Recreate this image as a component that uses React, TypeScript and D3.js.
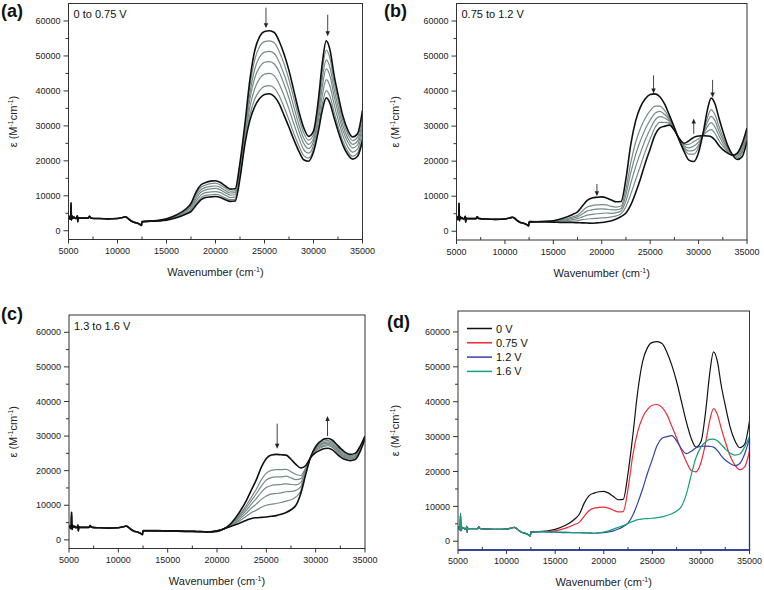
import React from 'react';
import * as d3 from 'd3';

const FONT = "'Liberation Sans', Arial, Helvetica, sans-serif";

// shared x grid for the spectral region above 12500 cm-1
const xGrid = [12500, 14000, 15000, 16000, 17000, 17500, 18000, 18500, 19000, 19500, 20000, 20500, 21000, 21500, 22000, 22500, 23000, 23500, 24000, 24500, 25000, 25500, 26000, 26500, 27000, 27500, 28000, 28500, 29000, 29500, 30000, 30500, 30900, 31300, 31700, 32100, 32500, 33000, 33500, 34000, 34500, 35000];

// low-wavenumber region (common to all spectra)
const lowX = [5000, 5080, 5150, 5220, 5260, 5300, 5380, 5450, 5550, 5700, 5850, 5900, 5950, 6000, 6100, 6500, 7000, 7150, 7250, 7400, 8000, 9000, 10000, 10500, 10800, 11000, 11300, 11600, 12000, 12300, 12450];
const lowY = [3500, 4100, 3300, 3600, 8000, 3000, 4200, 3600, 3900, 3500, 3800, 4300, 2600, 3800, 3600, 3600, 3600, 4100, 3700, 3600, 3500, 3400, 3500, 3800, 4000, 3700, 3000, 2500, 2200, 1800, 1500];

// main spectra
const v0 = [2600, 2900, 3400, 4500, 6300, 7800, 11000, 13100, 13800, 14200, 14300, 13800, 12800, 11900, 12000, 19500, 30500, 43000, 51500, 55500, 57000, 57200, 56700, 54200, 50500, 45800, 40000, 34200, 29500, 27000, 28500, 37500, 48000, 54300, 51500, 44500, 39000, 32800, 28800, 26800, 27800, 34500];
const v075 = [2600, 2800, 3000, 3700, 4800, 5500, 7200, 8800, 9500, 9700, 9800, 9500, 8900, 8400, 8500, 15000, 24800, 31500, 35500, 37800, 39000, 39200, 38400, 36300, 33000, 29600, 26000, 22800, 20300, 19900, 22500, 28500, 34500, 38000, 36300, 32300, 28600, 24500, 21800, 20500, 21300, 25800];
const v12 = [2800, 2700, 2600, 2500, 2500, 2450, 2400, 2350, 2300, 2400, 2500, 2700, 3000, 3500, 4200, 5200, 7500, 11000, 15000, 19500, 23500, 27500, 29500, 30000, 30300, 28800, 26500, 25100, 25800, 26800, 27200, 27300, 27200, 27000, 26000, 24500, 23300, 22300, 21700, 22300, 25000, 29500];
const v13 = [2600, 2600, 2500, 2500, 2400, 2400, 2400, 2350, 2300, 2300, 2400, 2900, 3700, 5000, 6800, 9000, 11500, 14500, 17500, 21000, 23500, 24500, 24700, 24600, 24500, 23300, 21800, 20800, 21500, 23800, 25200, 26000, 26400, 26500, 26000, 25000, 24000, 23200, 22900, 23200, 25500, 29300];
const v16 = [2700, 2700, 2600, 2600, 2500, 2500, 2400, 2400, 2300, 2400, 2600, 3000, 3500, 4000, 4500, 5100, 5700, 6200, 6400, 6500, 6600, 6800, 7000, 7400, 7900, 8700, 10000, 13500, 19000, 24000, 27000, 28500, 29200, 29300, 28800, 27700, 26500, 25300, 24700, 25000, 27000, 30000];

// intermediate spectra, panel (a)
const aG1 = [2600, 2900, 3300, 4400, 6100, 7400, 10400, 12400, 13100, 13500, 13600, 13100, 12200, 11300, 11400, 18800, 29600, 41200, 48900, 52700, 54100, 54300, 53800, 51300, 47700, 43200, 37800, 32400, 28000, 25900, 27500, 36100, 45800, 51700, 49100, 42600, 37300, 31500, 27700, 25800, 26800, 33100];
const aG2 = [2600, 2900, 3300, 4200, 5800, 7000, 9800, 11700, 12400, 12700, 12800, 12400, 11500, 10800, 10900, 18000, 28600, 39200, 46200, 49700, 51100, 51300, 50700, 48300, 44700, 40500, 35400, 30400, 26500, 24700, 26500, 34500, 43600, 48900, 46500, 40500, 35600, 30100, 26500, 24700, 25700, 31600];
const aG3 = [2600, 2800, 3200, 4100, 5600, 6700, 9100, 11000, 11700, 12000, 12100, 11700, 10900, 10200, 10300, 17300, 27700, 37400, 43700, 46800, 48200, 48400, 47700, 45400, 41900, 37900, 33100, 28600, 25000, 23500, 25600, 33100, 41400, 46300, 44100, 38500, 33900, 28700, 25400, 23700, 24600, 30200];
const aG4 = [2600, 2800, 3100, 4000, 5300, 6200, 8400, 10200, 10900, 11100, 11200, 10900, 10200, 9500, 9600, 16400, 26600, 35200, 40600, 43500, 44800, 45000, 44300, 42000, 38600, 34800, 30500, 26500, 23200, 22200, 24400, 31400, 38800, 43200, 41200, 36200, 31900, 27200, 24000, 22500, 23400, 28600];
const aG5 = [2600, 2800, 3100, 3800, 5000, 5800, 7700, 9400, 10100, 10300, 10400, 10100, 9400, 8900, 9000, 15600, 25500, 33000, 37600, 40100, 41300, 41500, 40800, 38600, 35300, 31700, 27800, 24300, 21500, 20800, 23300, 29700, 36300, 40100, 38300, 33900, 30000, 25600, 22700, 21300, 22200, 26900];

// intermediate spectra, panel (b)
const bG1 = [2700, 2800, 2900, 3300, 4100, 4600, 5800, 6900, 7300, 7500, 7600, 7500, 7100, 6900, 7200, 12100, 19600, 25400, 29400, 32300, 34400, 35700, 35700, 34400, 32200, 29400, 26200, 23500, 22000, 22000, 23900, 28100, 32300, 34700, 33200, 30000, 27000, 23800, 21800, 21000, 22400, 26900];
const bG2 = [2700, 2800, 2800, 3100, 3700, 4100, 4900, 5800, 6100, 6300, 6400, 6300, 6100, 6100, 6500, 10400, 16700, 21900, 25900, 29200, 31700, 33700, 34200, 33300, 31700, 29200, 26200, 23900, 22900, 23100, 24700, 27900, 31100, 32800, 31500, 28600, 26100, 23500, 21800, 21400, 23000, 27500];
const bG3 = [2700, 2700, 2700, 2900, 3300, 3600, 4100, 4600, 4800, 5000, 5100, 5200, 5100, 5300, 5800, 8700, 13700, 18400, 22400, 26100, 29100, 31700, 32700, 32300, 31300, 29100, 26300, 24300, 23800, 24300, 25500, 27700, 29800, 31000, 29700, 27300, 25200, 23100, 21700, 21700, 23700, 28200];
const bG4 = [2800, 2700, 2700, 2700, 2900, 3000, 3300, 3500, 3600, 3700, 3800, 3900, 4100, 4400, 5000, 7000, 10600, 14700, 18700, 22800, 26300, 29600, 31100, 31100, 30800, 28900, 26400, 24700, 24800, 25600, 26400, 27500, 28500, 29000, 27900, 25900, 24300, 22700, 21700, 22000, 24300, 28800];

// intermediate spectra, panel (c)
const cG1 = [2600, 2600, 2500, 2500, 2400, 2400, 2400, 2400, 2300, 2300, 2500, 2900, 3700, 4800, 6200, 8000, 10100, 12400, 14700, 17400, 19300, 20100, 20300, 20300, 20400, 19700, 18900, 18600, 20900, 23900, 25700, 26600, 27100, 27200, 26700, 25700, 24600, 23700, 23400, 23700, 25900, 29500];
const cG2 = [2600, 2600, 2500, 2500, 2400, 2400, 2400, 2400, 2300, 2300, 2500, 2900, 3600, 4600, 6000, 7600, 9400, 11400, 13400, 15600, 17300, 18000, 18200, 18200, 18400, 17900, 17400, 17700, 20600, 23900, 25900, 26900, 27400, 27500, 27000, 26000, 24900, 24000, 23600, 23900, 26100, 29600];
const cG3 = [2700, 2700, 2600, 2600, 2500, 2500, 2400, 2400, 2300, 2400, 2500, 3000, 3600, 4500, 5700, 7100, 8600, 10400, 12000, 13800, 15100, 15700, 15900, 16000, 16200, 16000, 15900, 16600, 20300, 23900, 26100, 27300, 27800, 27900, 27400, 26400, 25300, 24300, 23800, 24100, 26300, 29700];
const cG4 = [2700, 2700, 2600, 2600, 2500, 2500, 2400, 2400, 2300, 2400, 2500, 3000, 3600, 4400, 5300, 6500, 7800, 9200, 10400, 11700, 12700, 13200, 13400, 13600, 13900, 14000, 14300, 15400, 19900, 23900, 26400, 27600, 28200, 28300, 27800, 26700, 25600, 24500, 24100, 24400, 26500, 29800];
const cG5 = [2700, 2700, 2600, 2600, 2500, 2500, 2400, 2400, 2300, 2400, 2600, 3000, 3500, 4200, 5000, 5900, 6900, 7900, 8600, 9400, 10000, 10300, 10500, 10800, 11200, 11600, 12400, 14200, 19500, 24000, 26600, 28000, 28600, 28700, 28200, 27200, 26000, 24900, 24300, 24600, 26700, 29900];

// arrows: [wavenumber, from, to]
const arrowsA = [[25150, 63800, 57900], [31450, 61800, 55600]];
const arrowsB = [[19500, 13500, 10000], [25350, 44500, 39300], [29500, 27800, 32200], [31450, 43200, 38200]];
const arrowsC = [[26100, 33600, 26300], [31200, 30000, 35800]];

// legend of panel (d)
const legendLabels = ['0 V', '0.75 V', '1.2 V', '1.6 V'];
const legendColors = ['#111111', '#ee2b38', '#3342a8', '#18a07c'];

// blue trace artefact at bottom/right edge in (d)
const blueTailX = [35000, 35000, 5000];
const blueTailY = [29500, -2500, -2500];

const xMajor = [5000, 10000, 15000, 20000, 25000, 30000, 35000];
const xMinor = [7500, 12500, 17500, 22500, 27500, 32500];
const yMajor = [0, 10000, 20000, 30000, 40000, 50000, 60000];
const yMinor = [5000, 15000, 25000, 35000, 45000, 55000];

const GREY = '#768a87';
const BLACK = '#111111';

type Curve = { xs: number[]; ys: number[]; color: string; width: number };

const full = (ys: number[]) => ({ xs: lowX.concat(xGrid), ys: lowY.concat(ys) });
const high = (ys: number[]) => ({ xs: xGrid, ys });

type PanelProps = {
  box: { l: number; r: number; t: number; b: number };
  yTop: number;
  curves: Curve[];
  arrows?: number[][];
  label: string;
  labelPos: [number, number];
  note?: string;
  legend?: boolean;
  tail?: boolean;
  yTitleX: number;
  xLabelY: number;
  xTitleY: number;
};

function Panel(p: PanelProps) {
  const { box } = p;
  const x = d3.scaleLinear().domain([5000, 35000]).range([box.l, box.r]);
  const y = d3.scaleLinear().domain([-2500, p.yTop]).range([box.b, box.t]);
  const line = d3
    .line<[number, number]>()
    .x((d) => x(d[0]))
    .y((d) => y(d[1]))
    .curve(d3.curveMonotoneX);
  const cx = (box.l + box.r) / 2;
  const cy = (box.t + box.b) / 2;
  const clipId = 'clip' + p.label.replace(/[()]/g, '');
  return (
    <g>
      <defs>
        <clipPath id={clipId}>
          <rect x={box.l} y={box.t} width={box.r - box.l} height={box.b - box.t} />
        </clipPath>
      </defs>
      <g clipPath={`url(#${clipId})`}>
        {p.curves.map((c, i) => (
          <path
            key={i}
            d={line(c.xs.map((v, j) => [v, c.ys[j]] as [number, number])) || ''}
            fill="none"
            stroke={c.color}
            strokeWidth={c.width}
            strokeLinejoin="round"
          />
        ))}
      </g>
      {p.tail && (
        <path
          d={d3.line<[number, number]>().x((d) => x(d[0])).y((d) => y(d[1]))(
            blueTailX.map((v, j) => [v, blueTailY[j]] as [number, number])
          ) || ''}
          fill="none"
          stroke={legendColors[2]}
          strokeWidth={1.3}
        />
      )}
      <rect x={box.l} y={box.t} width={box.r - box.l} height={box.b - box.t} fill="none" stroke="#333" strokeWidth={1} />
      {p.tail && (
        <line x1={box.l} x2={box.r} y1={box.b} y2={box.b} stroke={legendColors[2]} strokeWidth={1.3} />
      )}
      {/* x ticks */}
      {xMajor.map((v) => (
        <g key={'xm' + v}>
          <line x1={x(v)} x2={x(v)} y1={box.b} y2={box.b + 4} stroke="#333" />
          <text x={x(v)} y={p.xLabelY} fontSize={9} textAnchor="middle" fill="#222" fontFamily={FONT}>
            {v}
          </text>
        </g>
      ))}
      {xMinor.map((v) => (
        <line key={'xn' + v} x1={x(v)} x2={x(v)} y1={box.b} y2={box.b - 3} stroke="#333" />
      ))}
      {/* y ticks */}
      {yMajor.map((v) => (
        <g key={'ym' + v}>
          <line x1={box.l - 5} x2={box.l} y1={y(v)} y2={y(v)} stroke="#333" />
          <text x={box.l - 8} y={y(v) + 3.2} fontSize={9} textAnchor="end" fill="#222" fontFamily={FONT}>
            {v}
          </text>
        </g>
      ))}
      {yMinor.map((v) => (
        <line key={'yn' + v} x1={box.l - 3} x2={box.l} y1={y(v)} y2={y(v)} stroke="#333" />
      ))}
      {/* axis titles */}
      <text x={cx} y={p.xTitleY} fontSize={11} textAnchor="middle" fill="#222" fontFamily={FONT}>
        Wavenumber (cm
        <tspan fontSize={7} dy={-4}>-1</tspan>
        <tspan dy={4}>)</tspan>
      </text>
      <text
        transform={`translate(${p.yTitleX},${cy}) rotate(-90)`}
        fontSize={11}
        textAnchor="middle"
        fill="#222"
        fontFamily={FONT}
      >
        ε (M<tspan fontSize={7} dy={-4}>-1</tspan>
        <tspan dy={4}>cm</tspan>
        <tspan fontSize={7} dy={-4}>-1</tspan>
        <tspan dy={4}>)</tspan>
      </text>
      <text x={p.labelPos[0]} y={p.labelPos[1]} fontSize={18} fontWeight="bold" fill="#111" fontFamily={FONT}>
        {p.label}
      </text>
      {p.note && (
        <text x={box.l + 5} y={box.t + 14.5} fontSize={11} fill="#111" fontFamily={FONT}>
          {p.note}
        </text>
      )}
      {p.arrows &&
        p.arrows.map((a, i) => {
          const ax = x(a[0]);
          const y1 = y(a[1]);
          const y2 = y(a[2]);
          const dir = y2 > y1 ? 1 : -1;
          return (
            <g key={'ar' + i}>
              <line x1={ax} x2={ax} y1={y1} y2={y2 - dir * 4} stroke="#444" strokeWidth={1} />
              <path d={`M${ax - 2.2},${y2 - dir * 5}L${ax + 2.2},${y2 - dir * 5}L${ax},${y2}Z`} fill="#222" />
            </g>
          );
        })}
      {p.legend &&
        legendLabels.map((lab, i) => {
          const ly = box.t + 17.5 + i * 14.3;
          return (
            <g key={'lg' + i}>
              <line x1={box.l + 9} x2={box.l + 34} y1={ly} y2={ly} stroke={legendColors[i]} strokeWidth={1.5} />
              <text x={box.l + 38} y={ly + 4} fontSize={11} fill="#111" fontFamily={FONT}>
                {lab}
              </text>
            </g>
          );
        })}
    </g>
  );
}

export default function App() {
  const curvesA: Curve[] = [
    ...[aG1, aG2, aG3, aG4, aG5].map((g) => ({ ...high(g), color: GREY, width: 1.2 })),
    { ...full(v0), color: BLACK, width: 1.6 },
    { ...full(v075), color: BLACK, width: 1.6 },
  ];
  const curvesB: Curve[] = [
    ...[bG1, bG2, bG3, bG4].map((g) => ({ ...high(g), color: GREY, width: 1.2 })),
    { ...full(v075), color: BLACK, width: 1.6 },
    { ...full(v12), color: BLACK, width: 1.6 },
  ];
  const curvesC: Curve[] = [
    ...[cG1, cG2, cG3, cG4, cG5].map((g) => ({ ...high(g), color: GREY, width: 1.2 })),
    { ...full(v13), color: BLACK, width: 1.6 },
    { ...full(v16), color: BLACK, width: 1.6 },
  ];
  const curvesD: Curve[] = [v0, v075, v12, v16].map((s, i) => ({
    ...full(s),
    color: legendColors[i],
    width: 1.2,
  }));

  return (
    <svg
      width={764}
      height={590}
      style={{ position: 'absolute', left: 0, top: 0, background: '#fff' }}
      fontFamily={FONT}
    >
      <rect width={764} height={590} fill="#fff" />
      <Panel
        box={{ l: 68.5, r: 362.5, t: 3.5, b: 239.5 }}
        yTop={65000}
        curves={curvesA}
        arrows={arrowsA}
        label="(a)"
        labelPos={[1, 17]}
        note="0 to 0.75 V"
        yTitleX={17}
        xLabelY={254}
        xTitleY={276}
      />
      <Panel
        box={{ l: 456.5, r: 747, t: 3.5, b: 240 }}
        yTop={65000}
        curves={curvesB}
        arrows={arrowsB}
        label="(b)"
        labelPos={[384, 17]}
        note="0.75 to 1.2 V"
        yTitleX={399}
        xLabelY={255}
        xTitleY={277}
      />
      <Panel
        box={{ l: 69, r: 365, t: 315, b: 548.5 }}
        yTop={65000}
        curves={curvesC}
        arrows={arrowsC}
        label="(c)"
        labelPos={[1, 320]}
        note="1.3 to 1.6 V"
        yTitleX={17}
        xLabelY={563}
        xTitleY={585}
      />
      <Panel
        box={{ l: 458, r: 749.5, t: 311, b: 550 }}
        yTop={66000}
        curves={curvesD}
        label="(d)"
        labelPos={[387, 328]}
        legend
        tail
        yTitleX={399}
        xLabelY={564}
        xTitleY={586}
      />
    </svg>
  );
}
